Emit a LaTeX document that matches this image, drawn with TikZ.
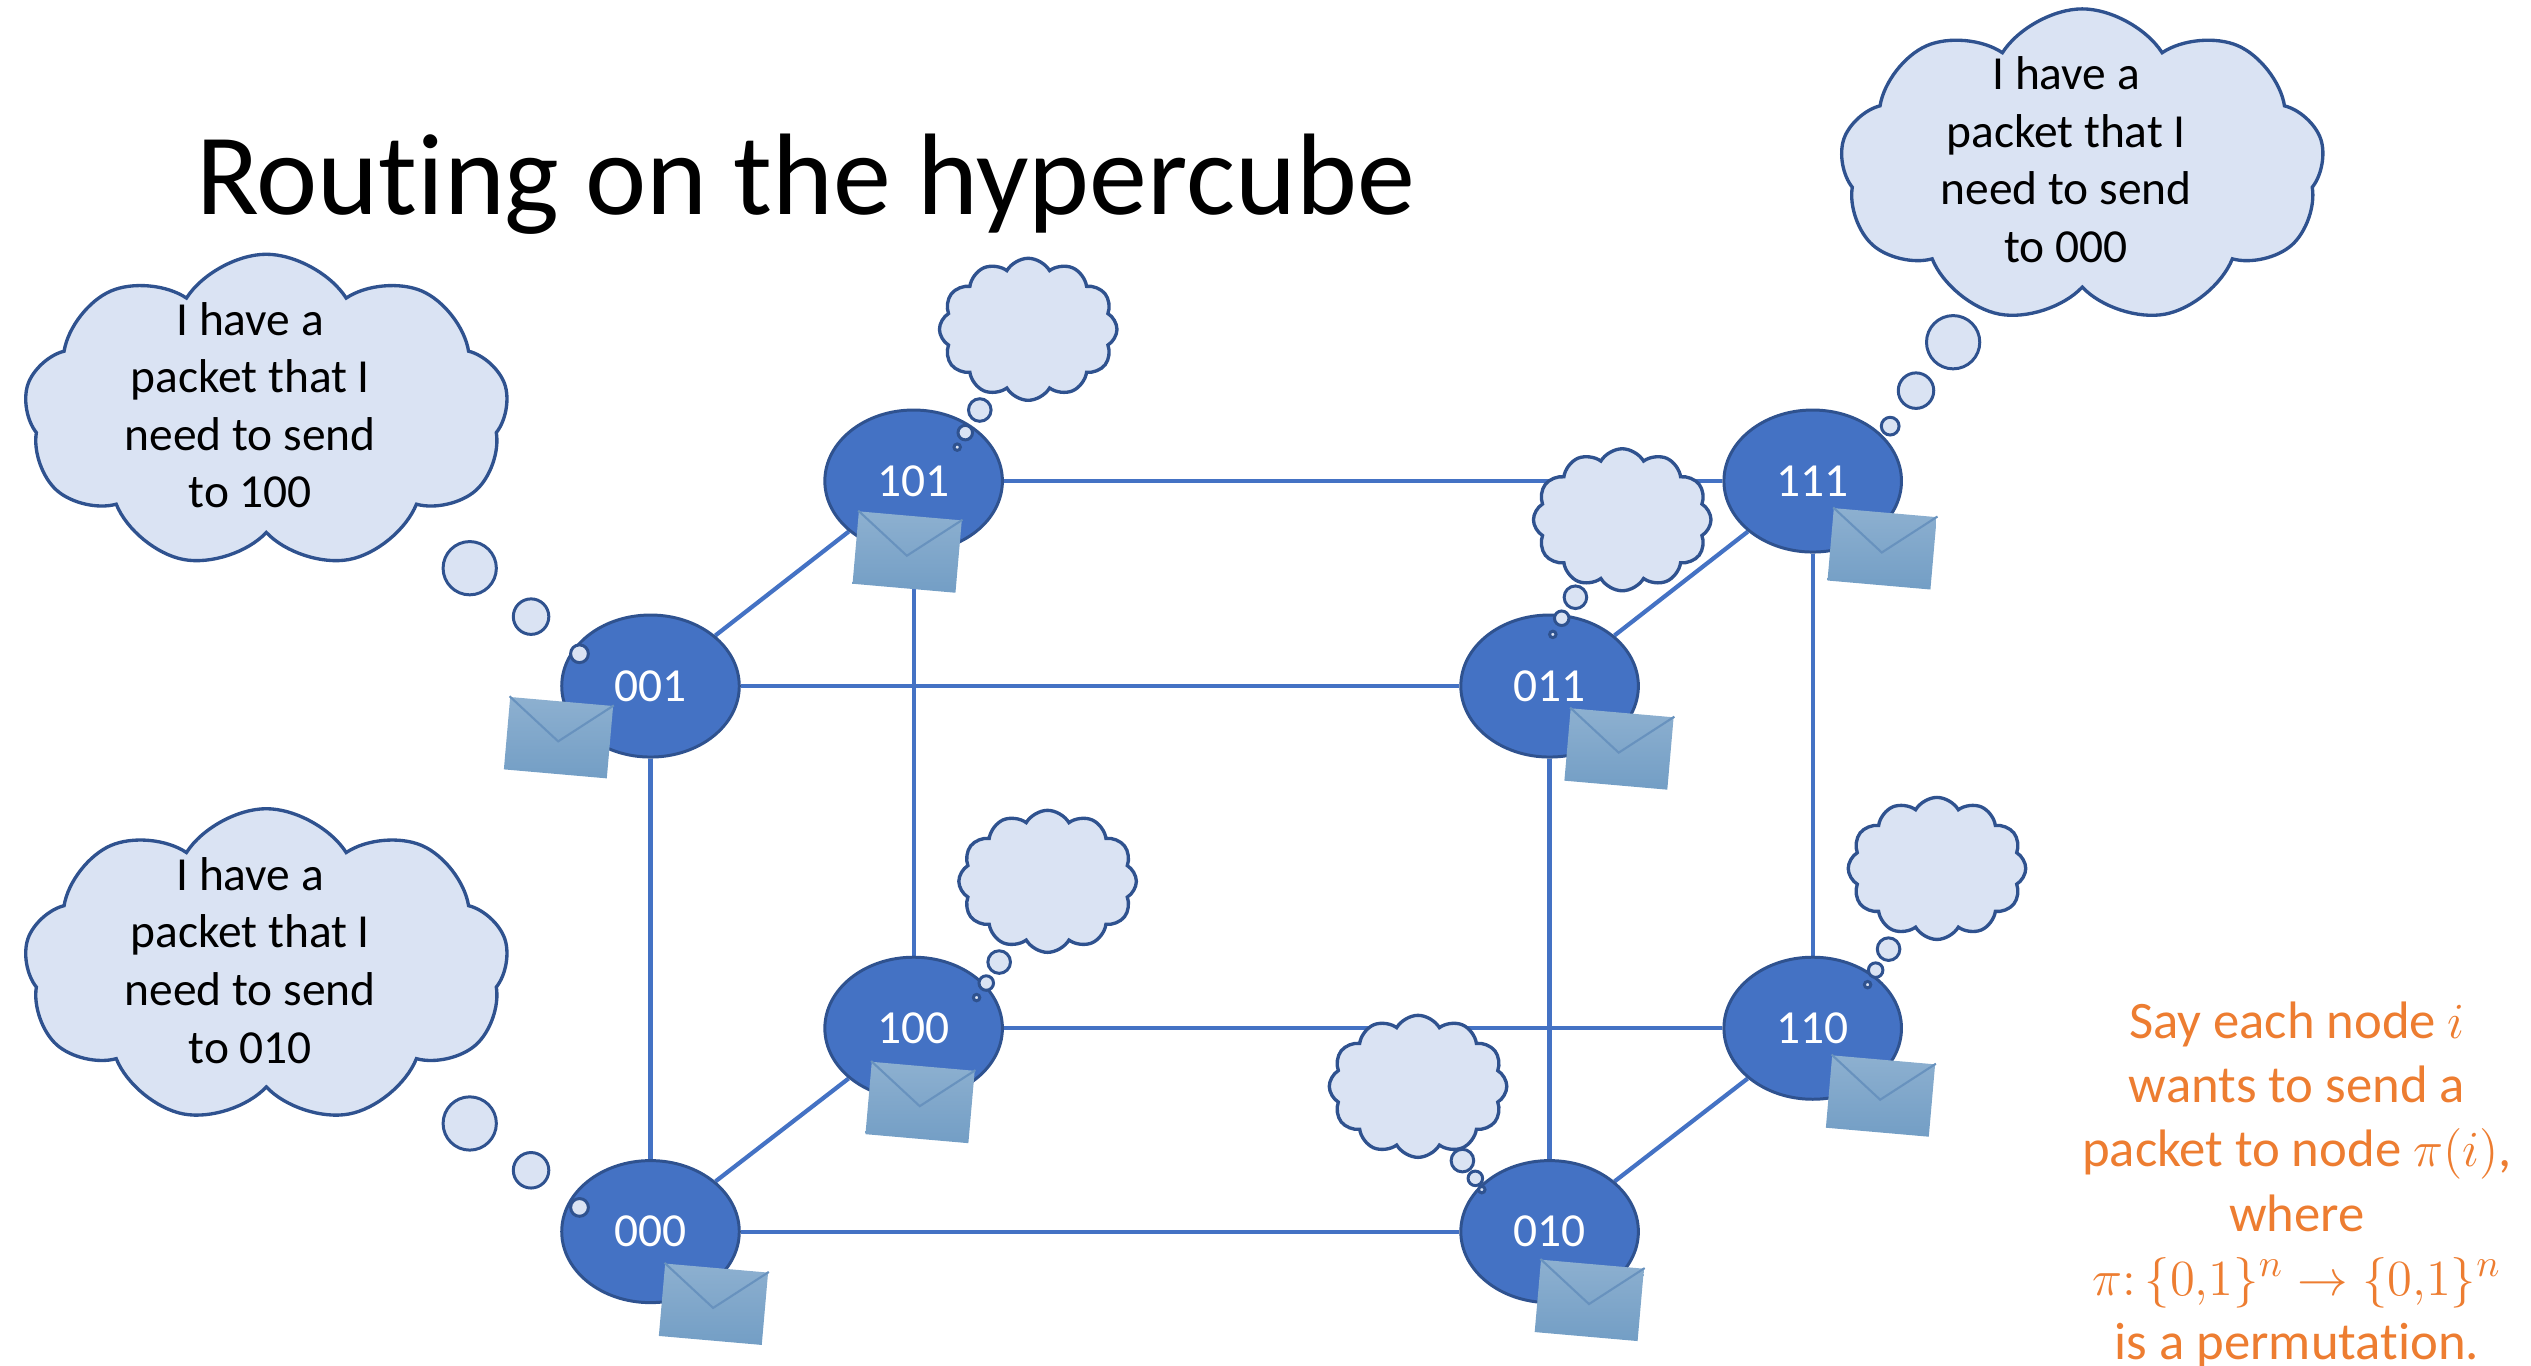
\documentclass[tikz,border=0pt]{standalone}
\usepackage{fontspec}
\setmainfont{Carlito}[Ligatures=NoCommon]
\usetikzlibrary{shapes.geometric,shapes.symbols,backgrounds,calc}
\definecolor{nodeblue}{HTML}{4472C4}
\definecolor{darkblue}{HTML}{2F528F}
\definecolor{cloudfill}{HTML}{DAE3F3}
\definecolor{orangetxt}{HTML}{ED7D31}
\definecolor{envtop}{RGB}{141,176,208}
\definecolor{envbot}{RGB}{115,158,197}
\definecolor{envline}{RGB}{104,146,190}
\def\upx{0.0161416cm}
\begin{document}
\begin{tikzpicture}[x=0.0161416cm, y=-0.0161416cm,
  hnode/.style={ellipse, fill=nodeblue, draw=darkblue, line width=0.85pt,
    minimum width=110*\upx, minimum height=88*\upx, inner sep=0pt,
    text=white, font=\fontsize{13.5}{16}\selectfont},
  edge/.style={draw=nodeblue, line width=1.2pt},
  envelope/.style={rectangle, top color=envtop, bottom color=envbot,
    minimum width=64*\upx, minimum height=45*\upx, inner sep=0pt, rotate=-5},
  vline/.style={draw=envline, line width=0.6pt},
  bigcloud/.style={cloud, cloud puffs=9, cloud puff arc=115, cloud ignores aspect,
    fill=cloudfill, draw=darkblue, line width=0.95pt,
    minimum width=300*\upx, minimum height=195*\upx, inner sep=0pt},
  smallcloud/.style={cloud, cloud puffs=12, cloud puff arc=120, cloud ignores aspect,
    fill=cloudfill, draw=darkblue, line width=0.95pt,
    minimum width=110*\upx, minimum height=88*\upx, inner sep=0pt},
  bubble/.style={circle, fill=cloudfill, draw=darkblue, line width=0.85pt, inner sep=0pt},
  cloudtext/.style={align=center, font=\fontsize{13.5}{16.4}\selectfont, inner sep=0pt},
]
\useasboundingbox (0,0) rectangle (1568,846);

% title
\node[anchor=base west, inner sep=0pt, font=\fontsize{33}{38}\selectfont] (title) at (121,133) {Routing on the hypercube};

% hypercube nodes
\node[hnode] (n101) at (566,298) {101};
\node[hnode] (n111) at (1123,298) {111};
\node[hnode] (n001) at (403,425) {001};
\node[hnode] (n011) at (960,425) {011};
\node[hnode] (n100) at (566,637) {100};
\node[hnode] (n110) at (1123,637) {110};
\node[hnode] (n000) at (403,763) {000};
\node[hnode] (n010) at (960,763) {010};

\begin{scope}[on background layer]
\draw[edge] (n101) -- (n111);
\draw[edge] (n001) -- (n011);
\draw[edge] (n100) -- (n110);
\draw[edge] (n000) -- (n010);
\draw[edge] (n001) -- (n101);
\draw[edge] (n011) -- (n111);
\draw[edge] (n000) -- (n100);
\draw[edge] (n010) -- (n110);
\draw[edge] (n001) -- (n000);
\draw[edge] (n101) -- (n100);
\draw[edge] (n011) -- (n010);
\draw[edge] (n111) -- (n110);
\end{scope}

% envelopes
\foreach \nm/\ex/\ey in {101/562/342, 001/346/457, 111/1166/340, 011/1003/464,
                         100/570/683, 110/1165/679, 000/442/808, 010/984.6/805.6}{
  \node[envelope] (e\nm) at (\ex,\ey) {};
  \draw[vline] (e\nm.north west) -- ($(e\nm.north)!1.1!(e\nm.center)$) -- (e\nm.north east);
}

% big clouds with text
\node[bigcloud] (cA) at (165,255) {};
\node[cloudtext] (tA) at (155,251) {I have a\\packet that I\\need to send\\to 100};
\node[bubble, minimum size=33*\upx] (bA1) at (291,352) {};
\node[bubble, minimum size=22*\upx] (bA2) at (329,382) {};
\node[bubble, minimum size=11*\upx] (bA3) at (359,405) {};

\node[bigcloud] (cB) at (165,598.5) {};
\node[cloudtext] (tB) at (155,595) {I have a\\packet that I\\need to send\\to 010};
\node[bubble, minimum size=33*\upx] (bB1) at (291,696) {};
\node[bubble, minimum size=22*\upx] (bB2) at (329,725) {};
\node[bubble, minimum size=11*\upx] (bB3) at (359,748) {};

\node[bigcloud] (cC) at (1290,103) {};
\node[cloudtext] (tC) at (1280,99) {I have a\\packet that I\\need to send\\to 000};
\node[bubble, minimum size=33*\upx] (bC1) at (1210,212) {};
\node[bubble, minimum size=22*\upx] (bC2) at (1187,242) {};
\node[bubble, minimum size=11*\upx] (bC3) at (1171,264) {};

% small empty clouds
\foreach \nm/\cx/\cy/\ax/\ay/\bx/\by/\qx/\qy in {
   101/637/204/607/254/598/268/593/277,
   011/1005/322/976/370/967.5/383/962/393,
   100/649/546/619/596/611/609/605/618,
   110/1200/538/1170/588/1162/601/1157/610,
   010/878.5/673/906/719/914/730/918/737}{
  \node[smallcloud] (s\nm) at (\cx,\cy) {};
  \node[bubble, minimum size=14*\upx] (s\nm a) at (\ax,\ay) {};
  \node[bubble, minimum size=9*\upx] (s\nm b) at (\bx,\by) {};
  \node[bubble, minimum size=4*\upx] (s\nm c) at (\qx,\qy) {};
}

% note
\node[align=center, text=orangetxt, font=\fontsize{15}{18.3}\selectfont,
  anchor=north, inner sep=0pt] (note) at (1423,620)
  {Say each node $i$\\wants to send a\\packet to node $\pi(i)$,\\where\\
   $\pi\colon\{0{,}1\}^n\rightarrow\{0{,}1\}^n$\\is a permutation.};
\end{tikzpicture}
\end{document}
